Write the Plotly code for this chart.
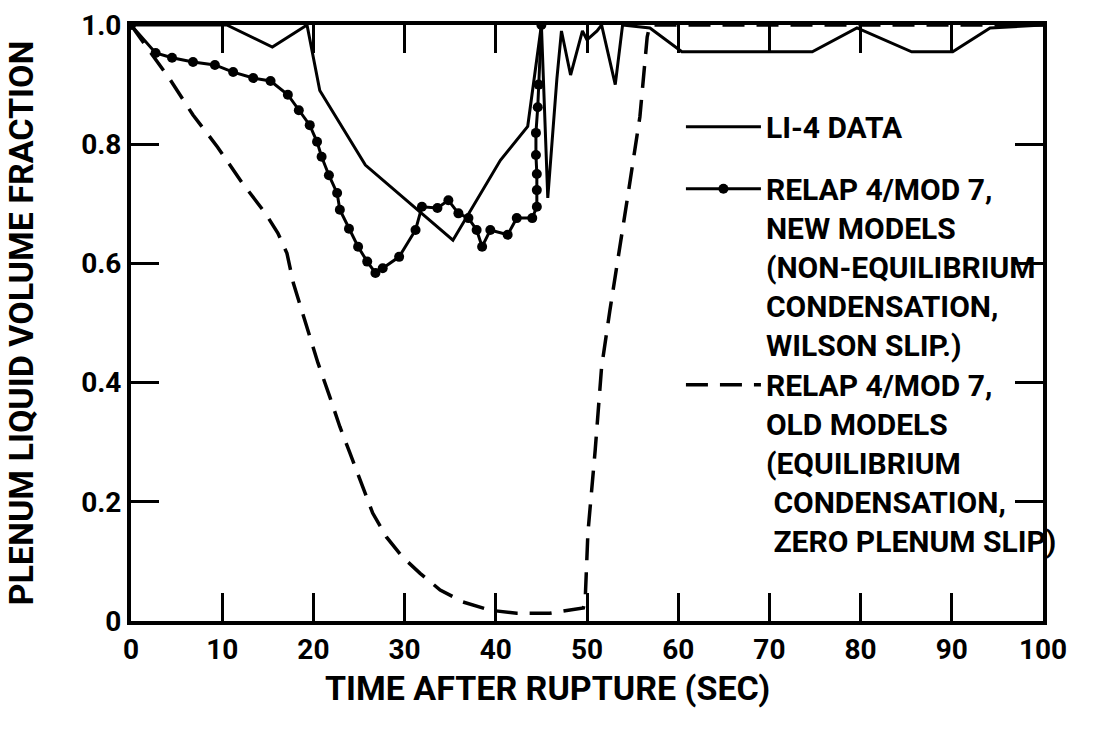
import plotly.graph_objects as go

# LI-4 DATA (solid)
data_t = [0, 10.5, 15.5, 19.3, 20.7, 25.7, 35.3, 40.5, 43.5, 45.0, 45.7, 46.7, 47.2,
          48.2, 49.5, 50.0, 51.1, 51.6, 53.1, 53.9, 56.9, 60.4, 74.7, 79.6, 85.6, 90.1, 94.2, 100]
data_v = [1.0, 1.0, 0.963, 1.0, 0.89, 0.765, 0.639, 0.773, 0.83, 1.0, 0.71, 0.91, 0.99,
          0.916, 0.99, 0.975, 0.99, 1.0, 0.90, 1.0, 0.995, 0.955, 0.955, 0.995, 0.955, 0.955, 0.995, 1.0]

# RELAP 4/MOD 7 new models (dotted line with circles)
new_t = [0, 2.7, 4.5, 6.8, 9.2, 11.2, 13.4, 15.3, 17.2, 18.4, 19.6, 20.4, 20.9, 21.7, 22.6,
         22.9, 23.9, 24.9, 25.9, 26.8, 27.6, 29.4, 31.2, 31.9, 33.6, 34.8, 35.9, 37.0, 37.9,
         38.5, 39.4, 41.3, 42.3, 44.0, 44.5, 44.5, 44.5, 44.4, 44.4, 44.6, 44.7, 45.0]
new_v = [1.0, 0.953, 0.945, 0.938, 0.933, 0.921, 0.911, 0.906, 0.883, 0.857, 0.832, 0.804, 0.779,
         0.748, 0.718, 0.690, 0.658, 0.628, 0.603, 0.584, 0.592, 0.611, 0.656, 0.695, 0.693, 0.706,
         0.684, 0.676, 0.656, 0.628, 0.656, 0.648, 0.676, 0.676, 0.695, 0.723, 0.75, 0.782, 0.819,
         0.862, 0.90, 1.0]

# RELAP 4/MOD 7 old models (dashed)
old_t = [0, 4.3, 6.8, 9.5, 12.2, 14.7, 16.1, 17.1, 17.8, 18.7, 20.5, 21.8, 22.9, 24.0, 25.4,
         26.5, 28.0, 29.8, 31.7, 33.9, 36.4, 39.4, 42.3, 45.9, 49.6, 49.8, 50.1, 50.9, 51.6,
         52.5, 54.4, 55.8, 56.6, 56.9, 100]
old_v = [1.0, 0.908, 0.849, 0.795, 0.735, 0.685, 0.651, 0.617, 0.567, 0.522, 0.433, 0.376, 0.326,
         0.282, 0.225, 0.181, 0.141, 0.107, 0.080, 0.052, 0.032, 0.018, 0.013, 0.013, 0.022, 0.035,
         0.148, 0.287, 0.426, 0.52, 0.706, 0.846, 0.98, 1.0, 1.0]

x_ticks = [0, 10, 20, 30, 40, 50, 60, 70, 80, 90, 100]
y_ticks = [0, 0.2, 0.4, 0.6, 0.8, 1.0]
y_tick_text = ["0", "0.2", "0.4", "0.6", "0.8", "1.0"]

FONT = "Roboto, Liberation Sans, sans-serif"
LEG_FONT = dict(family=FONT, size=30, color="black", weight="bold")

fig = go.Figure()
fig.add_trace(go.Scatter(
    x=data_t, y=data_v, mode="lines", name="LI-4 DATA",
    line=dict(color="black", width=3), legendgroup="a", legend="legend"))
fig.add_trace(go.Scatter(
    x=new_t, y=new_v, mode="lines+markers",
    name="RELAP 4/MOD 7,<br>NEW MODELS<br>(NON-EQUILIBRIUM<br>CONDENSATION,<br>WILSON SLIP.)",
    line=dict(color="black", width=3), marker=dict(color="black", size=10),
    legendgroup="b", legend="legend"))
fig.add_trace(go.Scatter(
    x=old_t, y=old_v, mode="lines",
    name="RELAP 4/MOD 7,<br>OLD MODELS<br>(EQUILIBRIUM<br> CONDENSATION,<br> ZERO PLENUM SLIP)",
    line=dict(color="black", width=3.5, dash="22px,12px"), legendgroup="c", legend="legend2"))

fig.update_layout(
    width=1104, height=733,
    margin=dict(l=131, r=61, t=25, b=112, autoexpand=False),
    paper_bgcolor="white", plot_bgcolor="white",
    font=dict(family=FONT, color="black", size=26),
    legend=dict(x=0.603, y=0.873, xanchor="left", yanchor="top", itemwidth=75,
                bgcolor="rgba(0,0,0,0)", font=LEG_FONT,
                valign="top", traceorder="grouped", tracegroupgap=20),
    legend2=dict(x=0.603, y=0.44, xanchor="left", yanchor="top", itemwidth=75,
                 bgcolor="rgba(0,0,0,0)", font=LEG_FONT, valign="top"),
    showlegend=True,
    annotations=[dict(
        text="TIME AFTER RUPTURE (SEC)", xref="paper", yref="paper",
        x=0.457, y=-0.112, xanchor="center", yanchor="middle", showarrow=False,
        font=dict(family=FONT, size=34, weight="bold", color="black"))],
)
fig.update_xaxes(
    range=[0, 100], tickvals=x_ticks, ticktext=[str(v) for v in x_ticks],
    showgrid=False, zeroline=False, showline=True, linecolor="black", linewidth=4,
    mirror="ticks", ticks="inside", ticklen=28, tickwidth=3, tickcolor="black",
    tickfont=dict(family=FONT, size=28, weight="bold"),
)
fig.update_yaxes(
    range=[0, 1.0], tickvals=y_ticks, ticktext=y_tick_text,
    showgrid=False, zeroline=False, showline=True, linecolor="black", linewidth=4,
    mirror="ticks", ticks="inside", ticklen=28, tickwidth=3, tickcolor="black",
    tickfont=dict(family=FONT, size=28, weight="bold"),
    title=dict(text="PLENUM LIQUID VOLUME FRACTION", font=dict(family=FONT, size=34, weight="bold"), standoff=38),
)

fig.write_html("out.html", config={"displayModeBar": False},
               post_script="document.body.style.margin='0';")
